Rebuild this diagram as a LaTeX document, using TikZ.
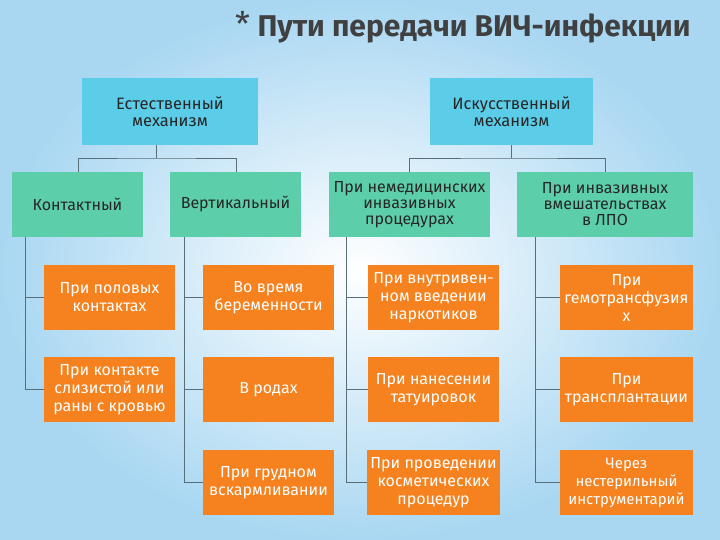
\documentclass[tikz,border=0pt]{standalone}
\usepackage{fontspec}
\setmainfont{Fira Sans}
\begin{document}
\begin{tikzpicture}[x=1pt,y=-1pt,
  cy/.style={fill=cyanbox,text=black!85,align=center,font=\fontsize{16.5}{17}\selectfont},
  gr/.style={fill=greenbox,text=black!85,align=center,font=\fontsize{16}{16}\selectfont},
  og/.style={fill=orangebox,text=white,align=center,font=\fontsize{16}{18}\selectfont},
  ln/.style={draw=linegray,line width=0.9pt}]
\definecolor{cyanbox}{HTML}{5BCDE8}
\definecolor{greenbox}{HTML}{5CCFAA}
\definecolor{orangebox}{HTML}{F5821F}
\definecolor{linegray}{HTML}{5A6E78}
\definecolor{bgblue}{HTML}{A9D7F2}
\useasboundingbox (0,0) rectangle (720,540);
\shade[inner color=white,outer color=bgblue] (0,0) rectangle (720,540);
\node[text=black!75,font=\fontsize{30}{32}\selectfont\bfseries,anchor=west] (title) at (232,27) {{\fontsize{34}{30}\selectfont\mdseries *} Пути передачи ВИЧ-инфекции};
% top
\node[cy,minimum width=176,minimum height=67] (A) at (170,111.5) {Естественный\\механизм};
\node[cy,minimum width=163,minimum height=67] (B) at (511.5,111.5) {Искусственный\\механизм};
% green
\node[gr,minimum width=131,minimum height=65] (g1) at (77.5,204.5) {Контактный};
\node[gr,minimum width=131,minimum height=65] (g2) at (235.5,204.5) {Вертикальный};
\node[gr,minimum width=161,minimum height=65,inner sep=1pt] (g3) at (409.5,204.5) {При немедицинских\\инвазивных\\процедурах};
\node[gr,minimum width=176,minimum height=65] (g4) at (605,204.5) {При инвазивных\\вмешательствах\\в ЛПО};
% connectors top
\coordinate (a0) at (156,158);
\draw[ln] (156,145) -- (a0);
\draw[ln] (78,172) |- (a0) -| (236,172);
\draw[ln] (511,145) -- (511,158);
\draw[ln] (409,172) |- (511,158) -| (605,172);
% orange
\node[og,minimum width=131,minimum height=65] (o11) at (109.5,297.5) {При половых\\контактах};
\node[og,minimum width=131,minimum height=65] (o12) at (109.5,389.5) {При контакте\\слизистой или\\раны с кровью};
\node[og,minimum width=131,minimum height=65] (o21) at (268.5,297.5) {Во время\\беременности};
\node[og,minimum width=131,minimum height=65] (o22) at (268.5,389.5) {В родах};
\node[og,minimum width=131,minimum height=65] (o23) at (268.5,482.5) {При грудном\\вскармливании};
\node[og,minimum width=131,minimum height=65] (o31) at (433.5,297.5) {При внутривен-\\ном введении\\наркотиков};
\node[og,minimum width=131,minimum height=65] (o32) at (433.5,389.5) {При нанесении\\татуировок};
\node[og,minimum width=131,minimum height=65] (o33) at (433.5,482.5) {При проведении\\косметических\\процедур};
\node[og,minimum width=133,minimum height=65,inner sep=1pt] (o41) at (626.5,297.5) {При\\гемотрансфузия\\х};
\node[og,minimum width=133,minimum height=65] (o42) at (626.5,389.5) {При\\трансплантации};
\node[og,minimum width=133,minimum height=65,inner sep=1pt,font=\fontsize{15}{18}\selectfont] (o43) at (626.5,482.5) {Через\\нестерильный\\инструментарий};
% verticals
\draw[ln] (25,237) -- (25,389.5) -- (o12.west);
\draw[ln] (25,297.5) -- (o11.west);
\draw[ln] (184,237) -- (184,482.5) -- (o23.west);
\draw[ln] (184,297.5) -- (o21.west); \draw[ln] (184,389.5) -- (o22.west);
\draw[ln] (346,237) -- (346,482.5) -- (o33.west);
\draw[ln] (346,297.5) -- (o31.west); \draw[ln] (346,389.5) -- (o32.west);
\draw[ln] (535,237) -- (535,482.5) -- (o43.west);
\draw[ln] (535,297.5) -- (o41.west); \draw[ln] (535,389.5) -- (o42.west);
\end{tikzpicture}
\end{document}
